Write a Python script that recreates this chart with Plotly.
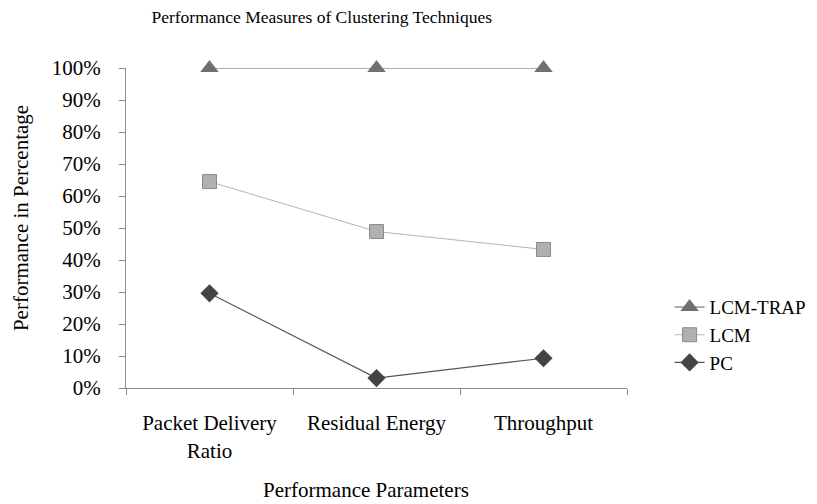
import plotly.graph_objects as go

# Data
parameters = ['Packet Delivery<br>Ratio', 'Residual Energy', 'Throughput']
lcm_trap = [100, 100, 100]
lcm = [64.5, 48.9, 43.3]
pc = [29.6, 3.1, 9.3]

serif = 'Liberation Serif'

fig = go.Figure()
fig.add_trace(go.Scatter(
    x=parameters, y=lcm_trap, name='LCM-TRAP', mode='lines+markers',
    line=dict(color='#5e5e5e', width=1), cliponaxis=False,
    marker=dict(symbol='triangle-up', size=16, color='#707070'),
))
fig.add_trace(go.Scatter(
    x=parameters, y=lcm, name='LCM', mode='lines+markers',
    line=dict(color='#b4b4b4', width=1), cliponaxis=False,
    marker=dict(symbol='square', size=14, color='#b0b0b0', line=dict(color='#8a8a8a', width=1)),
))
fig.add_trace(go.Scatter(
    x=parameters, y=pc, name='PC', mode='lines+markers',
    line=dict(color='#555555', width=1.2), cliponaxis=False,
    marker=dict(symbol='diamond', size=14, color='#444444'),
))

fig.update_layout(
    width=817, height=504,
    paper_bgcolor='white', plot_bgcolor='white',
    margin=dict(l=118, r=198, t=60, b=124, autoexpand=False),
    font=dict(family=serif, size=21, color='black'),
    title=dict(text='Performance Measures of Clustering Techniques',
               x=0.384, xanchor='center', y=0.982, yanchor='middle',
               font=dict(family=serif, size=17.5)),
    legend=dict(x=1.085, y=0.165, xanchor='left', yanchor='middle',
                font=dict(family=serif, size=19), tracegroupgap=0),
    showlegend=True,
    annotations=[
        dict(text='Performance Parameters', xref='paper', yref='paper',
             x=0.479, y=-0.319, xanchor='center', yanchor='middle',
             showarrow=False, font=dict(family=serif, size=21)),
        dict(text='Performance in Percentage', xref='paper', yref='paper',
             x=-0.2096, y=0.531, xanchor='center', yanchor='middle', textangle=-90,
             showarrow=False, font=dict(family=serif, size=21)),
    ],
)
fig.update_xaxes(
    showline=True, linecolor='#8c8c8c', linewidth=1, automargin=False,
    ticks='outside', tickson='boundaries', ticklen=6, tickcolor='#8c8c8c',
    showgrid=False, range=[-0.5, 2.5], ticklabelstandoff=16,
    tickfont=dict(family=serif, size=21),
)
fig.update_yaxes(
    showline=True, linecolor='#8c8c8c', linewidth=1, automargin=False,
    ticks='outside', ticklen=6, tickcolor='#8c8c8c',
    showgrid=False, range=[0, 100], dtick=10, ticksuffix='%',
    ticklabelstandoff=14,
    tickfont=dict(family=serif, size=21), zeroline=False,
)

fig.write_html('out.html')
